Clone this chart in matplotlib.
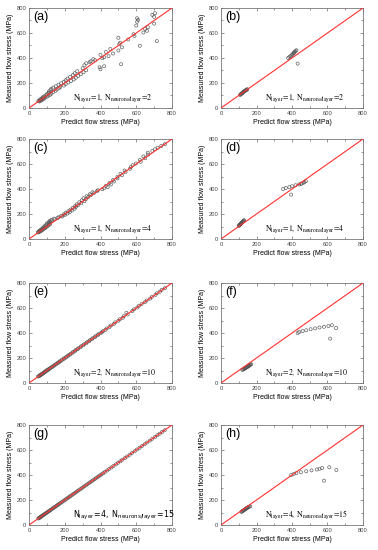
import matplotlib
matplotlib.use("Agg")
import matplotlib.pyplot as plt
from matplotlib.ticker import MultipleLocator

plt.rcParams['font.family'] = ['Liberation Sans', 'DejaVu Sans']

# ---- training data (left column) ----
meas_train = [52, 55, 58, 61, 64, 67, 70, 73, 76, 80,
              83, 87, 90, 94, 98, 102, 106, 110, 114, 118,
              123, 128, 133, 138, 143, 148, 153, 158, 163, 168,
              174, 180, 186, 192, 198, 204, 210, 216, 222, 228,
              235, 242, 249, 256, 263, 270, 278, 286, 294, 302,
              310, 318, 326, 334, 342, 350, 358, 366, 374, 382,
              390, 398, 406, 415, 425, 436, 448, 460, 472, 485,
              498, 510, 522, 535, 548, 562, 576, 590, 604, 618,
              632, 646, 660, 675, 690, 705, 718, 730, 745, 758]

pred_a = [58, 52, 66, 58, 72, 62, 78, 68, 84, 74,
          90, 78, 100, 86, 108, 95, 118, 100, 125, 108,
          112, 135, 112, 148, 120, 155, 125, 168, 135, 175,
          150, 195, 165, 205, 180, 220, 195, 235, 205, 250,
          215, 262, 230, 275, 245, 290, 255, 305, 270, 320,
          400, 300, 395, 420, 310, 515, 320, 340, 345, 370,
          360, 410, 420, 445, 400, 470, 430, 500, 455, 520,
          620, 505, 510, 715, 555, 500, 590, 585, 640, 660,
          650, 665, 600, 700, 605, 610, 605, 700, 690, 705]

pred_c = [50, 56, 52, 64, 58, 70, 62, 76, 68, 82,
          74, 90, 78, 96, 84, 104, 90, 110, 96, 118,
          100, 112, 108, 118, 115, 128, 125, 145, 140, 160,
          165, 185, 180, 200, 195, 215, 205, 228, 220, 240,
          232, 255, 245, 262, 258, 275, 268, 292, 282, 310,
          295, 318, 305, 330, 322, 345, 340, 362, 355, 380,
          385, 410, 420, 440, 430, 458, 450, 475, 470, 495,
          495, 520, 512, 540, 535, 565, 570, 580, 598, 625,
          620, 650, 640, 665, 665, 690, 705, 720, 740, 760]

pred_e = [50, 56, 60, 60, 66, 66, 72, 72, 78, 80,
          84, 86, 92, 92, 100, 100, 108, 108, 115, 118,
          122, 130, 132, 140, 142, 150, 152, 160, 162, 170,
          172, 182, 185, 194, 197, 206, 209, 218, 220, 230,
          233, 244, 247, 258, 261, 272, 276, 288, 292, 304,
          308, 320, 324, 336, 340, 352, 356, 368, 372, 384,
          388, 400, 408, 414, 428, 434, 450, 458, 475, 482,
          500, 508, 525, 530, 552, 545, 578, 588, 606, 615,
          630, 648, 658, 678, 688, 708, 715, 732, 742, 760]

pred_g = [52, 56, 58, 62, 64, 68, 70, 74, 76, 80,
          83, 88, 90, 95, 98, 103, 106, 111, 114, 119,
          123, 129, 133, 139, 143, 149, 153, 159, 163, 169,
          174, 181, 186, 193, 198, 205, 210, 217, 222, 229,
          235, 243, 249, 257, 263, 271, 278, 287, 294, 303,
          310, 319, 326, 335, 342, 351, 358, 367, 374, 383,
          390, 399, 406, 416, 425, 437, 448, 461, 472, 486,
          498, 511, 522, 536, 548, 563, 576, 591, 604, 619,
          632, 647, 660, 676, 690, 706, 718, 731, 745, 759]

# ---- test data (right column) ----
meas_test = [105, 108, 111, 114, 117, 120, 123, 126, 129, 132, 135, 138, 141, 144, 147, 150,
             355, 400, 408, 415, 422, 430, 437, 444, 450, 456, 462, 440]

pred_b = [108, 110, 112, 115, 118, 120, 122, 125, 128, 130, 133, 136, 139, 142, 146, 148,
          432, 378, 385, 392, 398, 403, 408, 412, 416, 420, 425, 410]

pred_d = [100, 102, 104, 106, 108, 110, 112, 114, 116, 118, 120, 122, 124, 126, 128, 130,
          395, 350, 365, 385, 400, 420, 440, 455, 465, 470, 478, 450]

pred_f = [120, 125, 128, 132, 135, 138, 142, 145, 148, 152, 155, 158, 160, 163, 166, 170,
          615, 432, 440, 460, 480, 505, 530, 555, 580, 605, 625, 648]

pred_h = [115, 118, 121, 124, 127, 130, 133, 136, 139, 142, 145, 148, 151, 155, 160, 165,
          580, 395, 410, 425, 450, 480, 510, 540, 555, 570, 610, 650]

panels = [
    ('(a)', pred_a, meas_train, '1', '2', 'stix'),
    ('(b)', pred_b, meas_test, '1', '2', 'stix'),
    ('(c)', pred_c, meas_train, '1', '4', 'stix'),
    ('(d)', pred_d, meas_test, '1', '4', 'stix'),
    ('(e)', pred_e, meas_train, '2', '10', 'stix'),
    ('(f)', pred_f, meas_test, '2', '10', 'stix'),
    ('(g)', pred_g, meas_train, '4', '15', 'dejavusans'),
    ('(h)', pred_h, meas_test, '4', '15', 'stix'),
]

ticks = [0, 200, 400, 600, 800]

W, H = 378, 550
fig = plt.figure(figsize=(W / 100, H / 100), dpi=100)

lefts = [29, 221]
widths = [143, 142]
tops = [8, 139, 283, 425]
ah = 100

for i, (lab, xp, ym, nl, nn, mf) in enumerate(panels):
    r, c = divmod(i, 2)
    x0 = lefts[c] / W
    y0 = 1 - (tops[r] + ah) / H
    ax = fig.add_axes([x0, y0, widths[c] / W, ah / H])
    ax.plot([0, 800], [0, 800], color='#ff3030', lw=0.8, zorder=3)
    ax.scatter(xp, ym, s=5, facecolors='none', edgecolors='#555555',
               linewidths=0.45, zorder=2)
    ax.set_xlim(0, 800)
    ax.set_ylim(0, 800)
    ax.set_xticks(ticks)
    ax.set_yticks(ticks)
    ax.xaxis.set_minor_locator(MultipleLocator(100))
    ax.yaxis.set_minor_locator(MultipleLocator(100))
    ax.tick_params(which='both', direction='in', top=True, right=True,
                   labelsize=4.2, colors='#444444', width=0.4, pad=2)
    ax.tick_params(which='major', length=2)
    ax.tick_params(which='minor', length=1.2)
    for sp in ax.spines.values():
        sp.set_color('#777777')
        sp.set_linewidth(0.6)
    ax.set_xlabel('Predict flow stress (MPa)', fontsize=5, labelpad=2)
    ax.set_ylabel('Measured flow stress (MPa)', fontsize=5, labelpad=2)
    ax.text(0.03, 0.91, lab, transform=ax.transAxes, fontsize=9,
            ha='left', va='center')
    txt = r'$\mathrm{N_{layer}\!=\!' + nl + r',\ N_{neurons/layer}\!=\!' + nn + r'}$'
    ax.text(0.31, 0.10, txt, transform=ax.transAxes, fontsize=5.7,
            ha='left', va='center', math_fontfamily=mf)

fig.savefig('out.png', dpi=100)
